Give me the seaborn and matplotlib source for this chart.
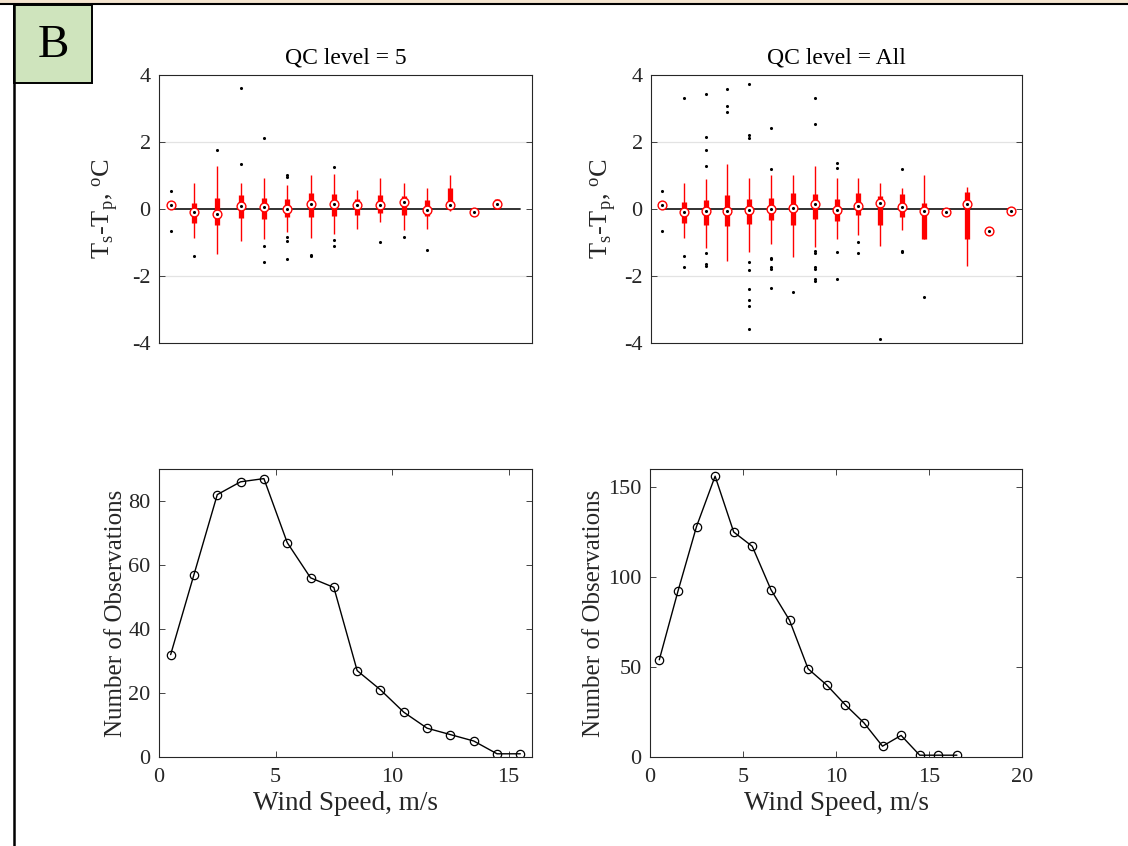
import numpy as np
import pandas as pd
import matplotlib
matplotlib.use("Agg")
import matplotlib.pyplot as plt
from matplotlib.patches import Rectangle
from matplotlib.lines import Line2D
import seaborn as sns

# ---------------- data ----------------
# Top-left: QC level = 5 (wind bins 0.5 ... 14.5)
qc5_pos = [0.5, 1.5, 2.5, 3.5, 4.5, 5.5, 6.5, 7.5, 8.5, 9.5, 10.5, 11.5, 12.5, 13.5, 14.5]
qc5_med = [0.11, -0.10, -0.14, 0.08, 0.05, 0.00, 0.15, 0.14, 0.11, 0.11, 0.22, -0.04, 0.11, -0.08, 0.15]
qc5_q1 = [0.11, -0.42, -0.47, -0.28, -0.29, -0.24, -0.25, -0.20, -0.18, -0.12, -0.18, -0.20, 0.03, -0.08, 0.00]
qc5_q3 = [0.11, 0.18, 0.33, 0.41, 0.33, 0.31, 0.48, 0.44, 0.30, 0.41, 0.40, 0.26, 0.63, -0.08, 0.30]
qc5_wlo = [0.11, -0.86, -1.33, -0.96, -0.91, -0.68, -0.86, -0.76, -0.60, -0.39, -0.62, -0.60, -0.07, -0.08, 0.00]
qc5_whi = [0.11, 0.77, 1.29, 0.77, 0.94, 0.72, 1.02, 1.05, 0.58, 0.94, 0.77, 0.62, 1.02, -0.08, 0.30]
qc5_out = [[0.55, -0.65], [-1.39], [1.75], [3.60, 1.34], [2.12, -1.09, -1.58],
           [1.00, 0.95, -0.83, -0.96, -1.49], [-1.37, -1.41], [1.26, -0.93, -1.09],
           [], [-0.98], [-0.84], [-1.23], [], [], []]

# Top-right: QC level = All (wind bins 0.5 ... 16.5)
all_pos = [0.5, 1.5, 2.5, 3.5, 4.5, 5.5, 6.5, 7.5, 8.5, 9.5, 10.5, 11.5, 12.5, 13.5, 14.5, 15.5, 16.5]
all_med = [0.11, -0.10, -0.06, -0.05, -0.03, -0.01, 0.04, 0.14, -0.03, 0.09, 0.18, 0.06, -0.05, -0.08, 0.15, -0.66, -0.05]
all_q1 = [0.11, -0.42, -0.47, -0.52, -0.44, -0.34, -0.49, -0.30, -0.37, -0.17, -0.49, -0.23, -0.89, -0.08, -0.89, -0.66, -0.05]
all_q3 = [0.11, 0.20, 0.27, 0.41, 0.30, 0.34, 0.47, 0.44, 0.30, 0.47, 0.38, 0.44, 0.18, -0.08, 0.51, -0.66, -0.05]
all_wlo = [0.11, -0.88, -1.16, -1.55, -1.29, -1.04, -1.43, -1.13, -0.91, -0.77, -1.11, -0.62, -0.89, -0.08, -1.71, -0.66, -0.05]
all_whi = [0.11, 0.77, 0.89, 1.35, 0.94, 1.02, 1.02, 1.28, 0.92, 0.94, 0.77, 0.63, 1.02, -0.08, 0.67, -0.66, -0.05]
all_out = [[0.55, -0.65], [3.31, -1.39, -1.72], [3.44, 2.14, 1.75, 1.27, -1.31, -1.64, -1.69],
           [3.59, 3.06, 2.89], [3.72, 2.21, 2.13, -1.58, -1.83, -2.40, -2.73, -2.91, -3.57],
           [2.41, 1.18, -1.45, -1.49, -1.73, -1.79, -2.35], [-2.47],
           [3.32, 2.55, -1.24, -1.31, -1.73, -1.79, -2.10, -2.14],
           [1.36, 1.23, -1.28, -2.08], [-0.98, -1.30], [-3.89], [1.19, -1.24, -1.29],
           [-2.62], [], [], [], []]

# Bottom: number of observations per wind-speed bin
ws_qc5 = [0.5, 1.5, 2.5, 3.5, 4.5, 5.5, 6.5, 7.5, 8.5, 9.5, 10.5, 11.5, 12.5, 13.5, 14.5, 15.5]
n_qc5 = [32, 57, 82, 86, 87, 67, 56, 53, 27, 21, 14, 9, 7, 5, 1, 1]
ws_all = [0.5, 1.5, 2.5, 3.5, 4.5, 5.5, 6.5, 7.5, 8.5, 9.5, 10.5, 11.5, 12.5, 13.5, 14.5, 15.5, 16.5]
n_all = [54, 92, 128, 156, 125, 117, 93, 76, 49, 40, 29, 19, 6, 12, 1, 1, 1]

titles = ["QC level = 5", "QC level = All"]
xlabel = "Wind Speed, m/s"
ylabel_top = r"T$_\mathregular{s}$-T$_\mathregular{p}$, $^\mathregular{o}$C"
ylabel_bot = "Number of Observations"

# ---------------- style ----------------
sns.set_theme(style="white")
plt.rcParams["font.family"] = ["Liberation Serif", "DejaVu Serif"]
plt.rcParams["mathtext.fontset"] = "custom"
plt.rcParams["mathtext.rm"] = "Liberation Serif"
plt.rcParams["mathtext.it"] = "Liberation Serif:italic"
plt.rcParams["axes.unicode_minus"] = False
TXT = "#262626"
SP = "#262626"

fig = plt.figure(figsize=(11.28, 8.46), dpi=100)
W, H = 1128.0, 846.0

def ax_at(x0, y0, x1, y1):
    return fig.add_axes([x0 / W, 1 - y1 / H, (x1 - x0) / W, (y1 - y0) / H])

ax_tl = ax_at(159, 75, 532, 343)
ax_tr = ax_at(651, 75, 1022, 343)
ax_bl = ax_at(159, 469, 532, 757)
ax_br = ax_at(650, 469, 1022, 757)

def style_axes(ax):
    for s in ax.spines.values():
        s.set_color(SP)
        s.set_linewidth(0.8)
        s.set_visible(True)
    ax.tick_params(direction="in", length=4, width=0.6, color=SP,
                   labelsize=16, labelcolor=TXT)
    ax.tick_params(axis="y", pad=6)
    ax.tick_params(axis="x", pad=8)

def draw_box(ax, pos, med, q1, q3, wlo, whi, outs, xmax, zero_end):
    style_axes(ax)
    ax.set_xlim(0, xmax)
    ax.set_ylim(-4, 4)
    ax.set_yticks([-4, -2, 0, 2, 4])
    ax.set_xticks([])
    ax.tick_params(axis="y", left=True, right=True)
    for yv in (-2, 2):
        ax.axhline(yv, color="#e3e3e3", lw=0.9, zorder=0)
    ax.plot([pos[0], zero_end], [0, 0], color="#222222", lw=1.3, zorder=1)
    ax.vlines(pos, wlo, whi, color="red", lw=1.0, zorder=2)
    ax.vlines(pos, q1, q3, color="red", lw=3.8, zorder=3)
    ox, oy = [], []
    for p, o in zip(pos, outs):
        ox += [p] * len(o)
        oy += o
    sns.scatterplot(x=ox, y=oy, ax=ax, color="black", s=5, marker="o",
                    linewidth=0, zorder=4, legend=False)
    sns.scatterplot(x=pos, y=med, ax=ax, facecolor="white", edgecolor="red",
                    s=40, marker="o", linewidth=1.0, zorder=5, legend=False)
    sns.scatterplot(x=pos, y=med, ax=ax, color="black", s=5, marker="o",
                    linewidth=0, zorder=6, legend=False)
    ax.set_xlabel("")

draw_box(ax_tl, qc5_pos, qc5_med, qc5_q1, qc5_q3, qc5_wlo, qc5_whi, qc5_out, 16, 15.5)
draw_box(ax_tr, all_pos, all_med, all_q1, all_q3, all_wlo, all_whi, all_out, 17, 16.5)
ax_tl.set_title(titles[0], fontsize=17, color="black", pad=8)
ax_tr.set_title(titles[1], fontsize=17, color="black", pad=8)
ax_tl.set_ylabel(ylabel_top, fontsize=19, color=TXT)
ax_tr.set_ylabel(ylabel_top, fontsize=19, color=TXT)
ax_tl.yaxis.set_label_coords(-0.104, 0.5)
ax_tr.yaxis.set_label_coords(-0.088, 0.5)

def draw_line(ax, x, y, xmax, ymax, yticks, xticks):
    style_axes(ax)
    df = pd.DataFrame({"ws": x, "n": y})
    sns.lineplot(data=df, x="ws", y="n", ax=ax, color="black", lw=1.0,
                 marker="o", markersize=6, markerfacecolor="none",
                 markeredgecolor="black", markeredgewidth=0.9)
    ax.set_xlim(0, xmax)
    ax.set_ylim(0, ymax)
    ax.set_yticks(yticks)
    ax.set_xticks(xticks)
    ax.tick_params(left=True, right=True, bottom=True, top=True)
    ax.set_xlabel(xlabel, fontsize=19.5, color=TXT, labelpad=3)
    ax.set_ylabel(ylabel_bot, fontsize=18, color=TXT)

draw_line(ax_bl, ws_qc5, n_qc5, 16, 90, [0, 20, 40, 60, 80], [0, 5, 10, 15])
draw_line(ax_br, ws_all, n_all, 20, 160, [0, 50, 100, 150], [0, 5, 10, 15, 20])
ax_bl.yaxis.set_label_coords(-0.086, 0.5)
ax_br.yaxis.set_label_coords(-0.121, 0.5)

# ---------------- frame decorations ----------------
fig.add_artist(Rectangle((0, 1 - 3.5 / H), 1, 3.5 / H, transform=fig.transFigure,
                         facecolor="#f4e4cf", edgecolor="none"))
fig.add_artist(Line2D([0, 1], [1 - 4.5 / H, 1 - 4.5 / H], transform=fig.transFigure,
                      color="black", lw=1.5))
fig.add_artist(Line2D([14 / W, 14 / W], [0, 1 - 4.5 / H], transform=fig.transFigure,
                      color="black", lw=1.8))
fig.add_artist(Rectangle((14 / W, 1 - 83 / H), 78 / W, 78 / H, transform=fig.transFigure,
                         facecolor="#cfe4bd", edgecolor="black", lw=1.4))
fig.text(53 / W, 1 - 46 / H, "B", fontsize=34, ha="center", va="center", color="black")

fig.savefig("out.png", dpi=100, facecolor="white")
